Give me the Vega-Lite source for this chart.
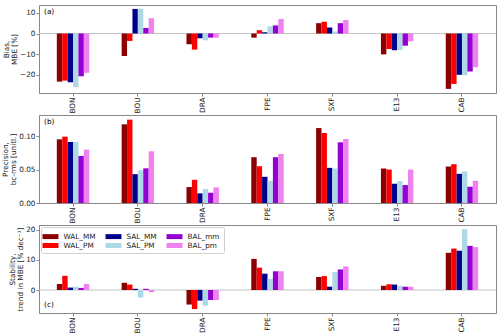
{
  "$schema": "https://vega.github.io/schema/vega-lite/v6.json",
  "padding": {"left": 0, "top": 4, "right": 3, "bottom": 0},
  "background": "white",
  "data": {"values": [
    {"station": "BON", "series": "WAL_MM", "bias": -23.3, "prec": 0.0955, "stab": 2.0},
    {"station": "BON", "series": "WAL_PM", "bias": -22.8, "prec": 0.0995, "stab": 4.7},
    {"station": "BON", "series": "SAL_MM", "bias": -23.6, "prec": 0.0915, "stab": 0.8},
    {"station": "BON", "series": "SAL_PM", "bias": -26.0, "prec": 0.0915, "stab": 1.1},
    {"station": "BON", "series": "BAL_mm", "bias": -20.7, "prec": 0.0706, "stab": 0.7},
    {"station": "BON", "series": "BAL_pm", "bias": -19.0, "prec": 0.080, "stab": 2.0},
    {"station": "BOU", "series": "WAL_MM", "bias": -10.9, "prec": 0.118, "stab": 2.4},
    {"station": "BOU", "series": "WAL_PM", "bias": -3.6, "prec": 0.125, "stab": 1.8},
    {"station": "BOU", "series": "SAL_MM", "bias": 11.9, "prec": 0.0433, "stab": 0.4},
    {"station": "BOU", "series": "SAL_PM", "bias": 12.0, "prec": 0.049, "stab": -2.5},
    {"station": "BOU", "series": "BAL_mm", "bias": 2.7, "prec": 0.052, "stab": 0.4},
    {"station": "BOU", "series": "BAL_pm", "bias": 7.4, "prec": 0.0776, "stab": -0.7},
    {"station": "DRA", "series": "WAL_MM", "bias": -5.2, "prec": 0.0239, "stab": -4.8},
    {"station": "DRA", "series": "WAL_PM", "bias": -7.8, "prec": 0.0348, "stab": -6.3},
    {"station": "DRA", "series": "SAL_MM", "bias": -2.3, "prec": 0.0144, "stab": -3.5},
    {"station": "DRA", "series": "SAL_PM", "bias": -3.3, "prec": 0.0209, "stab": -5.2},
    {"station": "DRA", "series": "BAL_mm", "bias": -2.0, "prec": 0.0154, "stab": -3.3},
    {"station": "DRA", "series": "BAL_pm", "bias": -2.0, "prec": 0.0234, "stab": -3.3},
    {"station": "FPE", "series": "WAL_MM", "bias": -2.0, "prec": 0.0687, "stab": 10.3},
    {"station": "FPE", "series": "WAL_PM", "bias": 1.6, "prec": 0.0552, "stab": 7.4},
    {"station": "FPE", "series": "SAL_MM", "bias": 0.6, "prec": 0.0393, "stab": 5.4},
    {"station": "FPE", "series": "SAL_PM", "bias": 3.5, "prec": 0.0333, "stab": 3.7},
    {"station": "FPE", "series": "BAL_mm", "bias": 3.9, "prec": 0.0687, "stab": 6.2},
    {"station": "FPE", "series": "BAL_pm", "bias": 7.0, "prec": 0.0736, "stab": 6.2},
    {"station": "SXF", "series": "WAL_MM", "bias": 5.0, "prec": 0.1124, "stab": 4.3},
    {"station": "SXF", "series": "WAL_PM", "bias": 5.7, "prec": 0.105, "stab": 4.6},
    {"station": "SXF", "series": "SAL_MM", "bias": 2.9, "prec": 0.0527, "stab": 1.1},
    {"station": "SXF", "series": "SAL_PM", "bias": 1.0, "prec": 0.0517, "stab": 5.9},
    {"station": "SXF", "series": "BAL_mm", "bias": 5.0, "prec": 0.091, "stab": 6.8},
    {"station": "SXF", "series": "BAL_pm", "bias": 6.5, "prec": 0.096, "stab": 7.8},
    {"station": "E13", "series": "WAL_MM", "bias": -10.1, "prec": 0.0517, "stab": 1.4},
    {"station": "E13", "series": "WAL_PM", "bias": -7.5, "prec": 0.0502, "stab": 1.9},
    {"station": "E13", "series": "SAL_MM", "bias": -8.1, "prec": 0.0289, "stab": 1.8},
    {"station": "E13", "series": "SAL_PM", "bias": -8.0, "prec": 0.0328, "stab": 1.4},
    {"station": "E13", "series": "BAL_mm", "bias": -5.9, "prec": 0.0269, "stab": 1.1},
    {"station": "E13", "series": "BAL_pm", "bias": -3.8, "prec": 0.0502, "stab": 1.1},
    {"station": "CAB", "series": "WAL_MM", "bias": -26.8, "prec": 0.0547, "stab": 12.3},
    {"station": "CAB", "series": "WAL_PM", "bias": -24.4, "prec": 0.0582, "stab": 13.7},
    {"station": "CAB", "series": "SAL_MM", "bias": -20.0, "prec": 0.0438, "stab": 13.0},
    {"station": "CAB", "series": "SAL_PM", "bias": -20.2, "prec": 0.0473, "stab": 20.1},
    {"station": "CAB", "series": "BAL_mm", "bias": -18.4, "prec": 0.0244, "stab": 14.6},
    {"station": "CAB", "series": "BAL_pm", "bias": -16.3, "prec": 0.0333, "stab": 14.2}
  ]},
  "spacing": 22,
  "bounds": "flush",
  "resolve": {"legend": {"color": "independent"}},
  "vconcat": [
    {
      "width": 457, "height": 88,
      "layer": [
        {"data": {"values": [{}]}, "mark": {"type": "rule", "color": "#c4c4c4", "strokeWidth": 1},
         "encoding": {"y": {"datum": 0, "type": "quantitative", "scale": {"domain": [-28.8, 13.8], "nice": false, "zero": false}, "axis": {"values": [-20,-10,0,10], "labelOverlap": false, "title": ["Bias,", "MBE [%]"]}}}},
        {"mark": {"type": "bar"},
         "encoding": {
           "x": {"field": "station", "type": "nominal", "sort": ["BON","BOU","DRA","FPE","SXF","E13","CAB"], "scale": {"paddingInner": 0.5, "paddingOuter": 0.275}, "axis": {"title": null, "labelAngle": -90}},
           "xOffset": {"field": "series", "type": "nominal", "sort": ["WAL_MM","WAL_PM","SAL_MM","SAL_PM","BAL_mm","BAL_pm"]},
           "y": {"field": "bias", "type": "quantitative", "scale": {"domain": [-28.8, 13.8], "nice": false, "zero": false}, "axis": {"values": [-20,-10,0,10], "labelOverlap": false, "title": ["Bias,", "MBE [%]"]}},
           "color": {"field": "series", "type": "nominal", "scale": {"domain": ["WAL_MM","WAL_PM","SAL_MM","SAL_PM","BAL_mm","BAL_pm"], "range": ["#8b0000","#ff0000","#00008b","#add8e6","#9400d3","#ee82ee"]}, "legend": null}
         }},
        {"data": {"values": [{"label": "(a)"}]}, "mark": {"type": "text", "align": "left", "baseline": "middle", "dx": -29, "fontSize": 7.3, "font": "DejaVu Sans"},
         "encoding": {"x": {"datum": "BON"}, "y": {"datum": 10.5, "type": "quantitative", "scale": {"domain": [-28.8, 13.8], "nice": false, "zero": false}, "axis": {"values": [-20,-10,0,10], "labelOverlap": false, "title": ["Bias,", "MBE [%]"]}}, "text": {"field": "label"}}}
      ]
    },
    {
      "width": 457, "height": 88,
      "layer": [
        {"mark": {"type": "bar"},
         "encoding": {
           "x": {"field": "station", "type": "nominal", "sort": ["BON","BOU","DRA","FPE","SXF","E13","CAB"], "scale": {"paddingInner": 0.5, "paddingOuter": 0.275}, "axis": {"title": null, "labelAngle": -90}},
           "xOffset": {"field": "series", "type": "nominal", "sort": ["WAL_MM","WAL_PM","SAL_MM","SAL_PM","BAL_mm","BAL_pm"]},
           "y": {"field": "prec", "type": "quantitative", "scale": {"domain": [0, 0.132], "nice": false}, "axis": {"values": [0, 0.05, 0.1], "format": ".2f", "title": ["Precision,", "bc-rms [unitl.]"]}},
           "color": {"field": "series", "type": "nominal", "scale": {"domain": ["WAL_MM","WAL_PM","SAL_MM","SAL_PM","BAL_mm","BAL_pm"], "range": ["#8b0000","#ff0000","#00008b","#add8e6","#9400d3","#ee82ee"]}, "legend": null}
         }},
        {"data": {"values": [{"label": "(b)"}]}, "mark": {"type": "text", "align": "left", "baseline": "middle", "dx": -29, "fontSize": 7.3, "font": "DejaVu Sans"},
         "encoding": {"x": {"datum": "BON"}, "y": {"datum": 0.122, "type": "quantitative", "scale": {"domain": [0, 0.132], "nice": false}, "axis": {"values": [0, 0.05, 0.1], "format": ".2f", "title": ["Precision,", "bc-rms [unitl.]"]}}, "text": {"field": "label"}}}
      ]
    },
    {
      "width": 457, "height": 88,
      "layer": [
        {"data": {"values": [{}]}, "mark": {"type": "rule", "color": "#c4c4c4", "strokeWidth": 1},
         "encoding": {"y": {"datum": 0, "type": "quantitative", "scale": {"domain": [-7.6, 21.5], "nice": false, "zero": false}, "axis": {"values": [0, 10, 20], "title": ["Stability,", "trend in MBE [% dec⁻¹]"]}}}},
        {"mark": {"type": "bar"},
         "encoding": {
           "x": {"field": "station", "type": "nominal", "sort": ["BON","BOU","DRA","FPE","SXF","E13","CAB"], "scale": {"paddingInner": 0.5, "paddingOuter": 0.275}, "axis": {"title": null, "labelAngle": -90}},
           "xOffset": {"field": "series", "type": "nominal", "sort": ["WAL_MM","WAL_PM","SAL_MM","SAL_PM","BAL_mm","BAL_pm"]},
           "y": {"field": "stab", "type": "quantitative", "scale": {"domain": [-7.6, 21.5], "nice": false, "zero": false}, "axis": {"values": [0, 10, 20], "title": ["Stability,", "trend in MBE [% dec⁻¹]"]}},
           "color": {"field": "series", "type": "nominal", "scale": {"domain": ["WAL_MM","WAL_PM","SAL_MM","SAL_PM","BAL_mm","BAL_pm"], "range": ["#8b0000","#ff0000","#00008b","#add8e6","#9400d3","#ee82ee"]},
             "legend": {"title": null, "orient": "top-left", "offset": 2, "columns": 3, "columnPadding": 9, "rowPadding": 0, "padding": 4, "symbolType": "M-1.45,-0.45H1.45V0.45H-1.45Z", "symbolSize": 121, "symbolStrokeWidth": 0, "labelOffset": 7.5, "labelFontSize": 7.3, "labelFont": "DejaVu Sans", "labelColor": "#222222", "fillColor": "white", "strokeColor": "#d0d0d0", "cornerRadius": 2}}
         }},
        {"data": {"values": [{"label": "(c)"}]}, "mark": {"type": "text", "align": "left", "baseline": "middle", "dx": -29, "fontSize": 7.3, "font": "DejaVu Sans"},
         "encoding": {"x": {"datum": "BON"}, "y": {"datum": -4.95, "type": "quantitative", "scale": {"domain": [-7.6, 21.5], "nice": false, "zero": false}, "axis": {"values": [0, 10, 20], "title": ["Stability,", "trend in MBE [% dec⁻¹]"]}}, "text": {"field": "label"}}}
      ]
    }
  ],
  "config": {
    "font": "DejaVu Sans",
    "view": {"stroke": "#888888", "fill": "white"},
    "axis": {"grid": false, "domainColor": "#888888", "tickColor": "#888888", "tickSize": 3, "labelFont": "DejaVu Sans", "labelFontSize": 7.3, "labelColor": "#222222", "labelOverlap": false, "labelPadding": 1, "titleFont": "DejaVu Sans", "titleFontSize": 7.3, "titleFontWeight": "normal", "titleColor": "#222222", "titlePadding": 1, "titleLineHeight": 8.5, "titleLimit": 300}
  }
}
